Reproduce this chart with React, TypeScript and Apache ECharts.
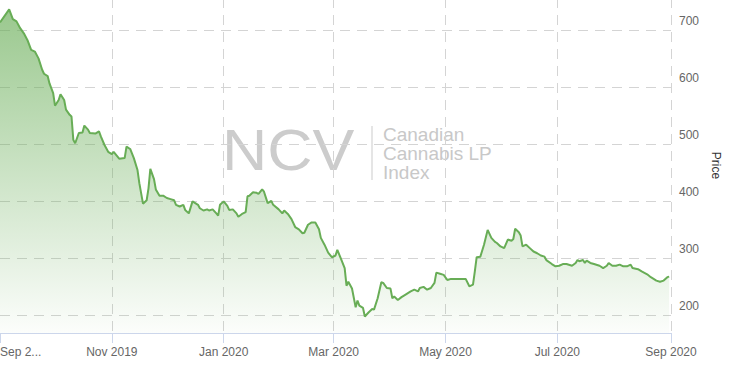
import React, { useEffect, useRef } from 'react';
import * as echarts from 'echarts';

// Calendar range of the x axis
const axisStart = '2019-09-01';
const axisEnd = '2020-09-01';

const priceDates = [
  '2019-09-01','2019-09-06','2019-09-08','2019-09-10','2019-09-12','2019-09-14','2019-09-16','2019-09-18','2019-09-20','2019-09-22',
  '2019-09-24','2019-09-25','2019-09-27','2019-09-28','2019-09-30','2019-10-01','2019-10-03','2019-10-04','2019-10-06','2019-10-07',
  '2019-10-09','2019-10-10','2019-10-11','2019-10-12','2019-10-14','2019-10-16','2019-10-17','2019-10-19','2019-10-20','2019-10-23',
  '2019-10-25','2019-10-26','2019-10-28','2019-10-30','2019-11-01','2019-11-02','2019-11-04','2019-11-05','2019-11-08','2019-11-09',
  '2019-11-11','2019-11-13','2019-11-15','2019-11-16','2019-11-18','2019-11-20','2019-11-21','2019-11-22','2019-11-24','2019-11-25',
  '2019-11-27','2019-11-29','2019-12-01','2019-12-03','2019-12-05','2019-12-06','2019-12-08','2019-12-10','2019-12-11','2019-12-13',
  '2019-12-15','2019-12-18','2019-12-19','2019-12-21','2019-12-23','2019-12-24','2019-12-26','2019-12-28','2019-12-29','2019-12-30',
  '2020-01-01','2020-01-03','2020-01-04','2020-01-06','2020-01-08','2020-01-09','2020-01-11','2020-01-13','2020-01-14','2020-01-15',
  '2020-01-17','2020-01-19','2020-01-20','2020-01-22','2020-01-23','2020-01-25','2020-01-27','2020-01-28','2020-01-31','2020-02-02',
  '2020-02-03','2020-02-05','2020-02-07','2020-02-09','2020-02-11','2020-02-13','2020-02-14','2020-02-16','2020-02-18','2020-02-20',
  '2020-02-22','2020-02-23','2020-02-25','2020-02-27','2020-02-29','2020-03-02','2020-03-03','2020-03-05','2020-03-07','2020-03-08',
  '2020-03-09','2020-03-11','2020-03-13','2020-03-14','2020-03-15','2020-03-17','2020-03-18','2020-03-20','2020-03-22','2020-03-23',
  '2020-03-25','2020-03-27','2020-03-28','2020-03-30','2020-04-01','2020-04-02','2020-04-03','2020-04-05','2020-04-07','2020-04-09',
  '2020-04-12','2020-04-14','2020-04-16','2020-04-17','2020-04-19','2020-04-21','2020-04-23','2020-04-25','2020-04-26','2020-04-28',
  '2020-04-30','2020-05-02','2020-05-04','2020-05-07','2020-05-10','2020-05-12','2020-05-14','2020-05-16','2020-05-17','2020-05-18',
  '2020-05-20','2020-05-22','2020-05-24','2020-05-26','2020-05-28','2020-05-29','2020-05-31','2020-06-02','2020-06-04','2020-06-06',
  '2020-06-07','2020-06-08','2020-06-10','2020-06-11','2020-06-12','2020-06-14','2020-06-16','2020-06-18','2020-06-20','2020-06-22',
  '2020-06-24','2020-06-25','2020-06-28','2020-06-30','2020-07-02','2020-07-04','2020-07-06','2020-07-09','2020-07-11','2020-07-12',
  '2020-07-13','2020-07-15','2020-07-16','2020-07-17','2020-07-19','2020-07-21','2020-07-24','2020-07-26','2020-07-28','2020-07-29',
  '2020-07-31','2020-08-02','2020-08-04','2020-08-06','2020-08-08','2020-08-10','2020-08-11','2020-08-14','2020-08-16','2020-08-19',
  '2020-08-21','2020-08-24','2020-08-26','2020-08-28','2020-08-30','2020-08-31'
];

const prices = [
  713,736,719,715,703,694,682,665,662,650,
  630,623,619,606,589,567,577,587,577,560,
  551,548,507,501,519,520,532,525,519,518,
  522,513,498,486,482,486,478,474,475,495,
  491,475,454,431,395,401,422,456,438,420,
  409,409,405,403,401,393,390,393,384,378,
  399,393,387,383,385,383,385,378,374,393,
  399,391,384,385,378,372,377,380,408,409,
  415,414,412,420,416,396,400,393,385,378,
  383,377,368,354,350,343,344,358,362,362,
  350,335,323,309,301,304,314,298,282,251,
  258,246,213,225,216,212,197,204,210,209,
  229,257,256,247,246,229,232,226,231,235,
  241,244,241,247,249,244,247,256,274,272,
  270,261,263,263,263,263,250,253,276,301,
  302,323,349,335,328,326,320,317,332,330,
  333,351,345,339,320,323,317,311,308,304,
  302,296,289,285,286,289,289,286,291,296,
  294,296,291,295,291,289,286,282,286,291,
  286,286,288,285,285,288,282,280,276,271,
  266,260,258,260,266,267
];

const monthNames = ['Jan','Feb','Mar','Apr','May','Jun','Jul','Aug','Sep','Oct','Nov','Dec'];
const firstLabel = 'Sep 2...';
const yAxisName = 'Price';
const watermarkMain = 'NCV';
const watermarkLines = ['Canadian', 'Cannabis LP', 'Index'];

function buildDays(start: string, end: string): string[] {
  const out: string[] = [];
  const t1 = Date.parse(end + 'T00:00:00Z');
  for (let t = Date.parse(start + 'T00:00:00Z'); t <= t1; t += 86400000) {
    out.push(new Date(t).toISOString().slice(0, 10));
  }
  return out;
}

function isTickDay(d: string): boolean {
  const m = parseInt(d.slice(5, 7), 10);
  return d.slice(8, 10) === '01' && m % 2 === 1;
}

const FONT = '"Liberation Sans", Arial, Helvetica, sans-serif';

export default function App() {
  const ref = useRef<HTMLDivElement>(null);

  useEffect(() => {
    if (!ref.current) return;
    const chart = echarts.init(ref.current, undefined, { renderer: 'svg' });
    const days = buildDays(axisStart, axisEnd);
    const lookup: Record<string, number> = {};
    priceDates.forEach((d, i) => { lookup[d] = prices[i]; });
    const seriesData = days.map((d) => (d in lookup ? lookup[d] : null));

    const option: any = {
      animation: false,
      textStyle: { fontFamily: FONT },
      grid: { left: 0, right: 60, top: -2, bottom: 32, containLabel: false, outerBoundsMode: 'none' },
      xAxis: {
        type: 'category',
        data: days,
        boundaryGap: false,
        axisLine: { show: true, lineStyle: { color: '#ccd6eb', width: 1 } },
        axisTick: {
          show: true,
          length: 10,
          lineStyle: { color: '#ccd6eb' },
          interval: (i: number, v: string) => isTickDay(v),
        },
        axisLabel: {
          color: '#666666',
          fontSize: 12,
          fontFamily: FONT,
          margin: 13,
          alignMinLabel: 'left',
          interval: (i: number, v: string) => i === 0 || isTickDay(v),
          formatter: (v: string, i: number) => {
            if (i === 0) return firstLabel;
            const m = parseInt(v.slice(5, 7), 10);
            return monthNames[m - 1] + ' ' + v.slice(0, 4);
          },
        },
        splitLine: {
          show: true,
          interval: (i: number, v: string) => i !== 0 && isTickDay(v),
          lineStyle: { color: '#d4d4d4', width: 1, type: [10, 7] },
        },
      },
      yAxis: {
        type: 'value',
        position: 'right',
        min: 168,
        max: 756,
        splitNumber: 5,
        name: yAxisName,
        nameLocation: 'middle',
        nameRotate: -90,
        nameGap: 39,
        nameTextStyle: { color: '#333333', fontSize: 12, fontFamily: FONT },
        axisLine: { show: false },
        axisTick: { show: false },
        axisLabel: {
          color: '#666666',
          fontSize: 12,
          fontFamily: FONT,
          margin: 8,
          verticalAlign: 'bottom',
          padding: [0, 0, 3, 0],
          showMinLabel: false,
          showMaxLabel: false,
        },
        splitLine: { show: true, lineStyle: { color: '#d4d4d4', width: 1, type: [10, 7] } },
      },
      graphic: [
        {
          type: 'text', x: 222, y: 150, scaleX: 1.1, silent: true, z: 0,
          style: { text: watermarkMain, font: 'normal 57px ' + FONT, fill: '#cccccc', align: 'left', verticalAlign: 'middle' },
        },
        {
          type: 'line', silent: true, z: 0,
          shape: { x1: 372, y1: 126, x2: 372, y2: 180 },
          style: { stroke: '#dcdcdc', lineWidth: 1.5 },
        },
        {
          type: 'text', x: 383, y: 153, silent: true, z: 0,
          style: {
            text: watermarkLines.join('\n'),
            font: 'normal 19px ' + FONT,
            lineHeight: 19,
            fill: '#c8c8c8',
            align: 'left',
            verticalAlign: 'middle',
          },
        },
      ],
      series: [
        {
          type: 'line',
          data: seriesData,
          connectNulls: true,
          showSymbol: false,
          symbol: 'none',
          lineStyle: { color: '#68ad56', width: 2 },
          itemStyle: { color: '#68ad56' },
          areaStyle: {
            color: new echarts.graphic.LinearGradient(0, 0, 0, 1, [
              { offset: 0, color: 'rgba(104,173,86,0.95)' },
              { offset: 1, color: 'rgba(104,173,86,0.03)' },
            ]),
          },
          z: 3,
        },
      ],
    };
    chart.setOption(option);
    return () => chart.dispose();
  }, []);

  return (
    <div
      ref={ref}
      style={{ position: 'fixed', left: 0, top: 0, width: 731, height: 365, background: '#ffffff' }}
    />
  );
}
